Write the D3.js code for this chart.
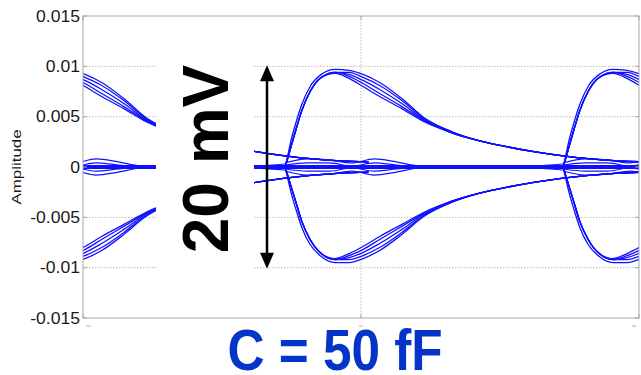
<!DOCTYPE html>
<html>
<head>
<meta charset="utf-8">
<script src="https://cdn.jsdelivr.net/npm/d3@7"></script>
<style>
  body { margin: 0; background: #fff; }
  svg { display: block; font-family: "Liberation Sans", Arial, sans-serif; }
</style>
</head>
<body>
<div id="chart"></div>
<script>
// y axis
const yTicks = [0.015, 0.01, 0.005, 0, -0.005, -0.01, -0.015];
const yTickLabels = ["0.015", "0.01", "0.005", "0", "-0.005", "-0.01", "-0.015"];
const xTicks = [0, 1, 2];

// eye diagram: one unit interval, folded; phase 0 = crossing point
const crossing = 0.727;
const periods = [-1, 0, 1];

const arcPhase = [0, 0.01, 0.02, 0.04, 0.06, 0.09, 0.13, 0.18, 0.23, 0.28, 0.34, 0.42, 0.5, 0.6, 0.7, 0.8, 0.9, 1.0, 1.1, 1.2, 1.3];

const upperArc1 = [0, 0.0012, 0.0025, 0.0045, 0.0062, 0.0080, 0.0092, 0.0097, 0.0096, 0.0092, 0.0084, 0.0068, 0.0049, 0.0035, 0.0026, 0.0020, 0.0015, 0.0011, 0.0008, 0.0006, 0.0005];
const upperArc2 = [0, 0.0009, 0.0019, 0.0038, 0.0056, 0.0075, 0.0089, 0.0094, 0.0094, 0.0089, 0.0081, 0.0066, 0.0048, 0.0035, 0.0026, 0.0020, 0.0015, 0.0011, 0.0008, 0.0006, 0.0005];
const upperArc3 = [0, 0.0009, 0.0019, 0.0038, 0.0056, 0.0075, 0.0089, 0.0094, 0.0092, 0.0086, 0.0077, 0.0063, 0.0047, 0.0034, 0.0026, 0.0020, 0.0015, 0.0011, 0.0008, 0.0006, 0.0005];
const upperArc4 = [0, 0.0009, 0.0019, 0.0038, 0.0056, 0.0075, 0.0089, 0.0094, 0.0090, 0.0083, 0.0073, 0.0060, 0.0046, 0.0034, 0.0026, 0.0020, 0.0015, 0.0011, 0.0008, 0.0006, 0.0005];
const upperArc5 = [0, 0.0009, 0.0019, 0.0038, 0.0056, 0.0075, 0.0089, 0.0093, 0.0088, 0.0080, 0.0070, 0.0058, 0.0045, 0.0034, 0.0026, 0.0020, 0.0015, 0.0011, 0.0008, 0.0006, 0.0005];

const lowerArc1 = [0, -0.0012, -0.0024, -0.0043, -0.0060, -0.0077, -0.0089, -0.0095, -0.0095, -0.0091, -0.0083, -0.0067, -0.0049, -0.0035, -0.0026, -0.0020, -0.0015, -0.0011, -0.0008, -0.0006, -0.0005];
const lowerArc2 = [0, -0.0009, -0.0018, -0.0036, -0.0054, -0.0072, -0.0086, -0.0092, -0.0092, -0.0088, -0.0080, -0.0065, -0.0048, -0.0035, -0.0026, -0.0020, -0.0015, -0.0011, -0.0008, -0.0006, -0.0005];
const lowerArc3 = [0, -0.0009, -0.0018, -0.0036, -0.0054, -0.0072, -0.0086, -0.0092, -0.0090, -0.0085, -0.0076, -0.0062, -0.0047, -0.0034, -0.0026, -0.0020, -0.0015, -0.0011, -0.0008, -0.0006, -0.0005];
const lowerArc4 = [0, -0.0009, -0.0018, -0.0036, -0.0054, -0.0072, -0.0086, -0.0092, -0.0088, -0.0082, -0.0072, -0.0059, -0.0046, -0.0034, -0.0026, -0.0020, -0.0015, -0.0011, -0.0008, -0.0006, -0.0005];
const lowerArc5 = [0, -0.0009, -0.0018, -0.0036, -0.0054, -0.0072, -0.0086, -0.0091, -0.0086, -0.0079, -0.0069, -0.0057, -0.0045, -0.0034, -0.0026, -0.0020, -0.0015, -0.0011, -0.0008, -0.0006, -0.0005];

const centerPhase = [0, 0.08, 0.16, 0.24, 0.32, 0.40, 0.48, 0.6, 0.8, 1.0];
const centerLine1 = [0.0004, 0.0008, 0.0007, 0.0004, 0.0008, 0.0005, 0.0001, 0, 0, 0.0003];
const centerLine2 = [0.0002, 0.0004, 0.0004, 0.0001, 0.0004, 0.0002, 0.0000, 0, 0, 0.0001];
const centerLine3 = [-0.0002, -0.0004, -0.0004, -0.0001, -0.0004, -0.0002, 0.0000, 0, 0, -0.0001];
const centerLine4 = [-0.0004, -0.0008, -0.0007, -0.0004, -0.0008, -0.0005, -0.0001, 0, 0, -0.0003];
const baseLine = [0, 0, 0, 0, 0, 0, 0, 0, 0, 0];

const W = 641, H = 375;
const margin = { top: 16, right: 2, bottom: 57, left: 83 };
const width = W - margin.left - margin.right,
    height = H - margin.top - margin.bottom;

const svg = d3.select("#chart").append("svg")
    .attr("width", W)
    .attr("height", H);

const xScale = d3.scaleLinear().domain([0, 2]).range([0, width]);
const yScale = d3.scaleLinear().domain([-0.015, 0.015]).range([height, 0]);

const g = svg.append("g")
    .attr("transform", "translate(" + margin.left + "," + margin.top + ")");

svg.append("defs").append("clipPath").attr("id", "plotclip")
    .append("rect").attr("width", width).attr("height", height);

// grid
g.append("g").selectAll("line").data(yTicks.slice(1, -1)).enter().append("line")
    .attr("x1", 0).attr("x2", width)
    .attr("y1", d => yScale(d)).attr("y2", d => yScale(d))
    .attr("stroke", "#bdbdbd").attr("stroke-dasharray", "1.5,1.5");
g.append("g").selectAll("line").data(xTicks.slice(1, -1)).enter().append("line")
    .attr("y1", 0).attr("y2", height)
    .attr("x1", d => xScale(d)).attr("x2", d => xScale(d))
    .attr("stroke", "#bdbdbd").attr("stroke-dasharray", "1.5,1.5");

// traces
const traces = g.append("g").attr("clip-path", "url(#plotclip)");
const line = (phase, k) => d3.line()
    .x((v, i) => xScale(crossing + phase[i] + k))
    .y(v => yScale(v))
    .curve(d3.curveMonotoneX);

const arcs = [upperArc1, upperArc2, upperArc3, upperArc4, upperArc5,
    lowerArc1, lowerArc2, lowerArc3, lowerArc4, lowerArc5];
const centers = [centerLine1, centerLine2, centerLine3, centerLine4];

periods.forEach(k => {
    traces.append("path").attr("d", line(centerPhase, k)(baseLine))
        .attr("fill", "none").attr("stroke", "#1010ff").attr("stroke-width", 4);
    centers.forEach(c => {
        traces.append("path").attr("d", line(centerPhase, k)(c))
            .attr("fill", "none").attr("stroke", "#1010ff").attr("stroke-width", 1.2);
    });
    arcs.forEach(a => {
        traces.append("path").attr("d", line(arcPhase, k)(a))
            .attr("fill", "none").attr("stroke", "#1010ff").attr("stroke-width", 1.3);
    });
});

// white annotation area over the plot
g.append("rect")
    .attr("x", 73).attr("y", 1)
    .attr("width", 98).attr("height", height - 2)
    .attr("fill", "#fff");

// frame
g.append("rect").attr("width", width).attr("height", height)
    .attr("fill", "none").attr("stroke", "#a8a8a8");

// ticks
g.append("g").selectAll("line").data(yTicks).enter().append("line")
    .attr("x1", 0).attr("x2", 4)
    .attr("y1", d => yScale(d)).attr("y2", d => yScale(d))
    .attr("stroke", "#a8a8a8");
g.append("g").selectAll("line").data(yTicks).enter().append("line")
    .attr("x1", width - 4).attr("x2", width)
    .attr("y1", d => yScale(d)).attr("y2", d => yScale(d))
    .attr("stroke", "#a8a8a8");
g.append("g").selectAll("line").data(xTicks).enter().append("line")
    .attr("x1", d => xScale(d)).attr("x2", d => xScale(d))
    .attr("y1", 0).attr("y2", 4)
    .attr("stroke", "#a8a8a8");
g.append("g").selectAll("line").data(xTicks).enter().append("line")
    .attr("x1", d => xScale(d)).attr("x2", d => xScale(d))
    .attr("y1", height - 4).attr("y2", height)
    .attr("stroke", "#a8a8a8");

// clipped-off x tick labels
g.append("g").selectAll("line").data(xTicks).enter().append("line")
    .attr("x1", (d, i) => xScale(d) + [3, -2, -7][i])
    .attr("x2", (d, i) => xScale(d) + [8, 2, -3][i])
    .attr("y1", height + 8).attr("y2", height + 8)
    .attr("stroke", "#b0b0b0");

// y tick labels
g.append("g").selectAll("text").data(yTicks).enter().append("text")
    .attr("transform", d => "translate(-3," + yScale(d) + ") scale(1.1,1)")
    .attr("text-anchor", "end")
    .attr("dy", "0.36em")
    .attr("font-size", "16px")
    .attr("fill", "#1a1a1a")
    .text((d, i) => yTickLabels[i]);

svg.append("text")
    .attr("transform", "translate(21," + (margin.top + yScale(0)) + ") rotate(-90) scale(1.3,1)")
    .attr("text-anchor", "middle")
    .attr("font-size", "13px")
    .attr("fill", "#1a1a1a")
    .text("Amplitude");

// 20 mV annotation
svg.append("text")
    .attr("transform", "translate(228," + (margin.top + yScale(0) - 8) + ") rotate(-90)")
    .attr("text-anchor", "middle")
    .attr("font-size", "64px")
    .attr("font-weight", "bold")
    .attr("fill", "#000")
    .text("20 mV");

const ax = 267;
const yTop = margin.top + yScale(0.0101), yBot = margin.top + yScale(-0.0101);
svg.append("line")
    .attr("x1", ax).attr("x2", ax).attr("y1", yTop + 10).attr("y2", yBot - 10)
    .attr("stroke", "#000").attr("stroke-width", 2.5);
svg.append("path")
    .attr("d", `M${ax},${yTop} L${ax - 7},${yTop + 16} L${ax + 7},${yTop + 16} Z`)
    .attr("fill", "#000");
svg.append("path")
    .attr("d", `M${ax},${yBot} L${ax - 7},${yBot - 16} L${ax + 7},${yBot - 16} Z`)
    .attr("fill", "#000");

// caption
svg.append("text")
    .attr("transform", "translate(335,370) scale(0.9,1)")
    .attr("text-anchor", "middle")
    .attr("font-size", "57px")
    .attr("font-weight", "bold")
    .attr("fill", "#0534c8")
    .text("C = 50 fF");
</script>
</body>
</html>
